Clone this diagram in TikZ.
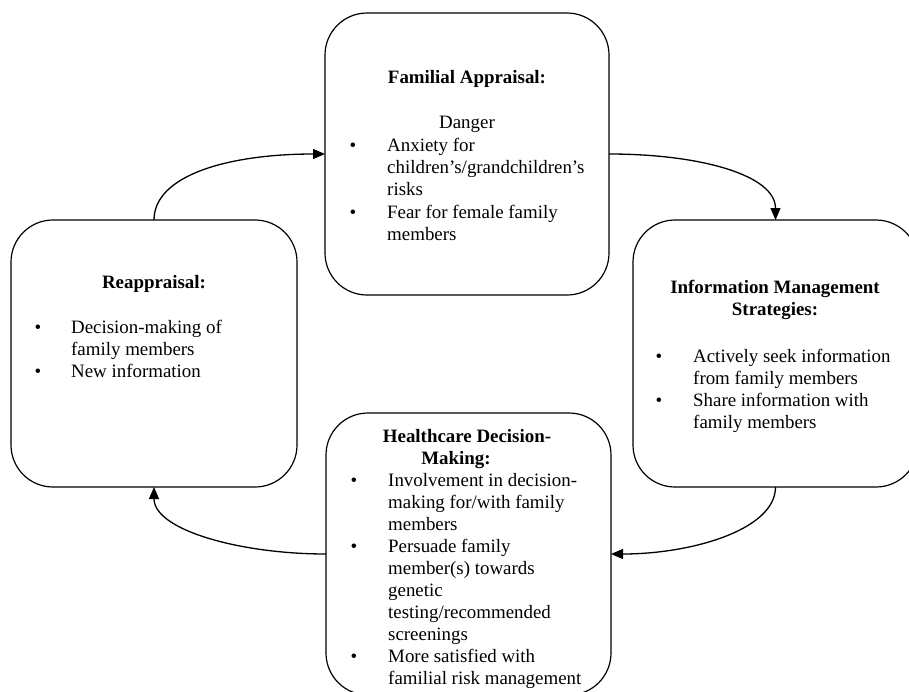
\documentclass[tikz,border=0pt]{standalone}
\usepackage{fontspec}
\setmainfont{Liberation Serif}
\usetikzlibrary{arrows.meta}
\newcommand\txtat[4]{\node[txt] (#1) at (#2,#3) {#4};}
\newcommand\ttlat[4]{\node[ttl] (#1) at (#2,#3) {#4};}
\newcommand\bulat[3]{\node[bul] (#1) at (#2,#3) {\textbullet};}
\begin{document}
\begin{tikzpicture}[x=1pt,y=-1pt,
  box/.style={draw,line width=1.2pt,rounded corners=42pt,inner sep=0pt,outer sep=0pt},
  txt/.style={inner sep=0pt,anchor=base west,font=\fontsize{18.9}{22.3}\selectfont},
  ttl/.style={inner sep=0pt,anchor=base,font=\fontsize{18.9}{22.3}\selectfont\bfseries},
  plain/.style={inner sep=0pt,anchor=base,font=\fontsize{18.9}{22.3}\selectfont},
  bul/.style={inner sep=0pt,anchor=base,font=\fontsize{18.9}{22.3}\selectfont},
  conn/.style={line width=1.3pt,-{Triangle[length=12pt,width=10pt]}}]
\useasboundingbox (0,0) rectangle (909,691);
% boxes
\node[box,minimum width=284pt,minimum height=282pt] (T) at (467,154) {};
\node[box,minimum width=286pt,minimum height=267pt] (L) at (154,353.5) {};
\node[box,minimum width=285pt,minimum height=267pt] (R) at (775.5,353.5) {};
\node[box,minimum width=285pt,minimum height=282pt] (B) at (468.5,554) {};
% connectors
\draw[conn] (L.north) .. controls ++(0,-45) and ++(-96,0) .. (T.west);
\draw[conn] (T.east) .. controls ++(91,0) and ++(0,-45) .. (R.north);
\draw[conn] (R.south) .. controls ++(0,43) and ++(80,0) .. (B.east);
\draw[conn] (B.west) .. controls ++(-86,0) and ++(0,43) .. (L.south);
% top box text
\ttlat{t1}{467}{83}{Familial Appraisal:}
\node[plain] (t2) at (467,128) {Danger};
\bulat{tb1}{353}{151}
\txtat{t3}{387}{151}{Anxiety for}
\txtat{t4}{387}{173}{children’s/grandchildren’s}
\txtat{t5}{387}{195}{risks}
\bulat{tb2}{353}{218}
\txtat{t6}{387}{218}{Fear for female family}
\txtat{t7}{387}{240}{members}
% left box text
\ttlat{l1}{154}{288}{Reappraisal:}
\bulat{lb1}{38}{333}
\txtat{l2}{71}{333}{Decision-making of}
\txtat{l3}{71}{355}{family members}
\bulat{lb2}{38}{377}
\txtat{l4}{71}{377}{New information}
% right box text
\ttlat{r1}{775}{293}{Information Management}
\ttlat{r2}{775}{315}{Strategies:}
\bulat{rb1}{659}{362}
\txtat{r3}{693}{362}{Actively seek information}
\txtat{r4}{693}{384}{from family members}
\bulat{rb2}{659}{406}
\txtat{r5}{693}{406}{Share information with}
\txtat{r6}{693}{428}{family members}
% bottom box text
\ttlat{b1}{467}{442}{Healthcare Decision-}
\ttlat{b2}{456}{464}{Making:}
\bulat{bb1}{354}{486}
\txtat{b3}{388}{486}{Involvement in decision-}
\txtat{b4}{388}{508}{making for/with family}
\txtat{b5}{388}{530}{members}
\bulat{bb2}{354}{552}
\txtat{b6}{388}{552}{Persuade family}
\txtat{b7}{388}{574}{member(s) towards}
\txtat{b8}{388}{596}{genetic}
\txtat{b9}{388}{618}{testing/recommended}
\txtat{b10}{388}{640}{screenings}
\bulat{bb3}{354}{662}
\txtat{b11}{388}{662}{More satisfied with}
\txtat{b12}{388}{684}{familial risk management}
\end{tikzpicture}
\end{document}
